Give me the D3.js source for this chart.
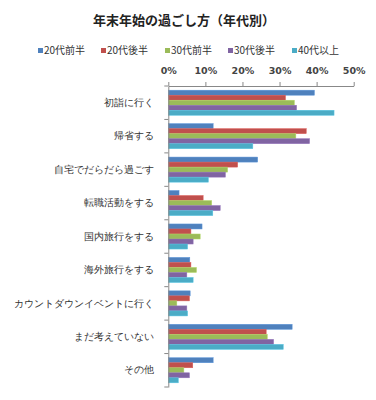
<!DOCTYPE html>
<html>
<head>
<meta charset="utf-8">
<script src="https://cdn.jsdelivr.net/npm/d3@7"></script>
<style>
  body { margin: 0; background: #fff; }
  svg { font-family: "Noto Sans CJK JP", "Noto Sans", sans-serif; }
</style>
</head>
<body>
<div id="chart"></div>
<script>
const categories = ["初詣に行く", "帰省する", "自宅でだらだら過ごす", "転職活動をする", "国内旅行をする",
  "海外旅行をする", "カウントダウンイベントに行く", "まだ考えていない", "その他"];
const seriesNames = ["20代前半", "20代後半", "30代前半", "30代後半", "40代以上"];
const colors = ["#4F81BD", "#C0504D", "#9BBB59", "#8064A2", "#4BACC6"];
// percentages per series, in category order
const s20early = [39.4, 12.1, 24.1, 2.9, 9.1, 5.8, 5.9, 33.4, 12.1];
const s20late = [31.6, 37.2, 18.7, 9.4, 6.1, 6.1, 5.7, 26.4, 6.6];
const s30early = [34.0, 34.4, 16.0, 11.7, 8.6, 7.6, 2.3, 26.7, 4.2];
const s30late = [34.6, 38.1, 15.4, 14.0, 6.7, 5.0, 5.0, 28.4, 5.7];
const s40plus = [44.7, 22.8, 10.8, 12.0, 5.2, 6.7, 5.2, 31.0, 2.7];
const seriesValues = [s20early, s20late, s30early, s30late, s40plus];
const xTicks = [0, 10, 20, 30, 40, 50];

const width = 376, height = 400;
const svg = d3.select("#chart").append("svg")
    .attr("width", width)
    .attr("height", height);

// title
svg.append("text")
    .attr("x", 184)
    .attr("y", 25)
    .attr("text-anchor", "middle")
    .attr("font-size", 13)
    .attr("font-weight", "bold")
    .attr("fill", "#222")
    .text("年末年始の過ごし方（年代別）");

// legend
const legendX = [38, 101, 165, 228, 292];
const legend = svg.append("g");
seriesNames.forEach((name, i) => {
    const g = legend.append("g").attr("transform", `translate(${legendX[i]},50)`);
    g.append("rect").attr("x", 0).attr("y", -2).attr("width", 5).attr("height", 5).attr("fill", colors[i]);
    g.append("text").attr("x", 6).attr("y", 3.5)
        .attr("font-size", 10).attr("fill", "#333").text(name);
});

const x = d3.scaleLinear().domain([0, 50]).range([168.3, 353.7]);
const y = d3.scaleBand().domain(categories).range([86, 387])
    .paddingInner(0.25).paddingOuter(0.125);
const ySub = d3.scaleBand().domain(seriesNames).range([0, y.bandwidth()]);

// top axis
const xAxis = svg.append("g")
    .attr("transform", "translate(0,86)")
    .call(d3.axisTop(x).tickValues(xTicks).tickFormat(d => d + "%").tickSize(4).tickSizeOuter(0));
xAxis.select(".domain").attr("stroke", "#888");
xAxis.selectAll(".tick line").attr("stroke", "#888");
xAxis.selectAll(".tick text")
    .attr("font-size", 9.5)
    .attr("font-weight", "bold")
    .attr("fill", "#444")
    .attr("font-family", "'DejaVu Sans', sans-serif")
    .attr("dy", "-0.5em");

// bars
categories.forEach((cat, ci) => {
    seriesNames.forEach((s, si) => {
        svg.append("rect")
            .attr("x", x(0))
            .attr("y", y(cat) + ySub(s))
            .attr("width", x(seriesValues[si][ci]) - x(0))
            .attr("height", ySub.bandwidth())
            .attr("fill", colors[si])
            .attr("stroke", d3.color(colors[si]).brighter(0.4))
            .attr("stroke-width", 0.5);
    });
});

// left axis with labels, ticks between categories
const yAxis = svg.append("g")
    .attr("transform", `translate(${x(0)},0)`)
    .call(d3.axisLeft(y).tickSize(0).tickPadding(14));
yAxis.select(".domain").attr("stroke", "#888");
yAxis.selectAll(".tick text").attr("font-size", 10).attr("fill", "#333");

const bounds = d3.range(categories.length + 1).map(i => 86 + i * y.step());
svg.append("g").selectAll("line")
    .data(bounds)
    .join("line")
    .attr("x1", x(0) - 4)
    .attr("x2", x(0))
    .attr("y1", d => d)
    .attr("y2", d => d)
    .attr("stroke", "#888");
</script>
</body>
</html>
